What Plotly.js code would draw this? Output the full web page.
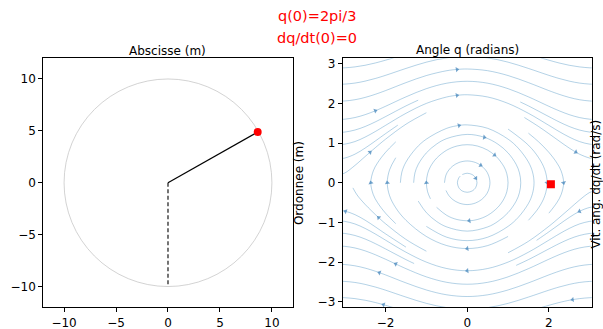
<!DOCTYPE html>
<html><head><meta charset="utf-8">
<script src="https://cdn.plot.ly/plotly-3.0.1.min.js"></script>
<style>html,body{margin:0;padding:0;background:#fff}#chart{width:603px;height:329px}</style>
</head><body><div id="chart"></div>
<script>
// ---------- left panel (pendulum in physical space) ----------
const pendulumLength = 10;
const pivotX = [0], pivotY = [0];
const bobX = [8.63], bobY = [4.89];
const restX = [0, 0], restY = [0, -10];
const leftTicks = [-10, -5, 0, 5, 10];

// ---------- right panel (phase space) ----------
const stateQ = [2.05], stateP = [-0.04];
const qTicks = [-2, 0, 2];
const pTicks = [-3, -2, -1, 0, 1, 2, 3];

// stream lines (q values, dq/dt values, arrow point indices)
const streamQ = [
  [-3.14,-3,-2.75,-2.5,-2.25,-2,-1.8],
  [1.8,2,2.25,2.5,2.75,3,3.14],
  [-3.14,-3,-2.75,-2.5,-2.25,-2,-1.5,-1,-0.5,0,0.5,1,1.5,2,2.25,2.5,2.75,3,3.14],
  [-3.14,-3,-2.75,-2.5,-2.25,-2,-1.5,-1,-0.5,-0.25,0,0.5,1,1.5,2,2.25,2.5,2.75,3,3.14],
  [-3.14,-3,-2.75,-2.5,-2.25,-2,-1.5,-1,-0.5,0,0.5,1,1.5,2,2.25,2.5,2.75,3,3.14],
  [-3.14,-3,-2.75,-2.5,-2.25,-2,-1.5,-1.2],
  [1.3,1.5,2,2.25,2.5,2.75,3,3.14],
  [-3.14,-3,-2.75,-2.5,-2.25,-2,-1.5,-1,-0.5,-0.25,0,0.5,1,1.5,2,2.25,2.5,2.75,3,3.14],
  [-3.14,-3,-2.75,-2.5,-2.25,-2,-1.7],
  [1.4,1.75,2,2.25,2.5,2.66,2.75,3,3.14],
  [-3.14,-3,-2.75,-2.5,-2.38,-2.25,-2,-1.5,-1.0],
  [3.14,3,2.75,2.58,2.5,2.25,2,1.8],
  [-1.8,-2,-2.05,-2.25,-2.5,-2.75,-3,-3.14],
  [3.14,3,2.75,2.5,2.25,2,1.5,1,0.5,0,-0.5,-1,-1.5,-2,-2.25,-2.5,-2.75,-3,-3.14],
  [3.14,3,2.75,2.5,2.25,2,1.5,1,0.5,0,-0.5,-1,-1.5,-2,-2.15,-2.25,-2.5,-2.75,-3,-3.14],
  [3.14,3,2.75,2.5,2.25,2,1.5,1,0.5,0,-0.5,-1,-1.5,-1.75,-2,-2.25,-2.5,-2.75,-3,-3.14],
  [3.14,3,2.75,2.5,2.25,2,1.5,1,0.5,0,-0.5,-1,-1.5,-2,-2.25,-2.5,-2.75,-3,-3.14],
  [3.14,3,2.75,2.5,2.25,2,1.5,1.2],
  [-1.3,-1.5,-2,-2.25,-2.5,-2.75,-3,-3.14],
  [-1.5,-2,-2.25,-2.5,-2.75,-2.98,-3.14],
  [3.14,3,2.75,2.5,2.25,2,1.7],
  [3.14,3,2.75,2.5,2.25,2,1.5,1.0],
  [-1.0,-1.5,-2.0,-2.17,-2.5,-2.7,-2.8],
  [1.5,1.75,2.0,2.2,2.3,2.362,2.3,2.2,2.0],
  [-1.75,-2.0,-2.2,-2.3,-2.362,-2.3,-2.2,-2.0,-1.75],
  [1.0,1.5,1.75,1.9,1.958,1.9,1.75,1.5],
  [1.0,0.5,0,-0.5,-1.0,-1.5,-1.75,-1.9,-1.958,-1.9,-1.75],
  [-1.637,-1.6,-1.5,-1.25,-1.0,-0.5,-0.2,0,0.5,1.0,1.25,1.5,1.6,1.637,1.6,1.5,1.25,1.0,0.5,0,-0.5,-1.0],
  [-1.312,-1.28,-1.2,-1.0,-0.75,-0.5,0,0.42,0.75,1.0,1.2,1.28,1.312,1.28,1.2,1.0,0.75,0.5,0,-0.5,-0.75,-1.0,-1.2],
  [-0.9,-0.97,-1.0,-0.97,-0.9,-0.75,-0.5,-0.25,0,0.25,0.5,0.67,0.75,0.9,0.97,1.0,0.97,0.9,0.75,0.5,0.25,0.05,-0.25,-0.5,-0.75],
  [-0.557,-0.52,-0.45,-0.35,-0.2,0,0.2,0.33,0.45,0.52,0.557,0.52,0.45,0.35,0.2,0,-0.2,-0.35,-0.45,-0.52],
  [-0.12,0,0.12,0.17,0.21,0.24,0.21,0.17,0.12,0,-0.12,-0.17,-0.21,-0.24,-0.21,-0.17]
];
const streamP = [
  [2.897,2.900,2.923,2.964,3.022,3.092,3.152],
  [3.152,3.092,3.022,2.964,2.923,2.900,2.897],
  [2.485,2.489,2.515,2.564,2.631,2.710,2.884,3.043,3.151,3.19,3.151,3.043,2.884,2.710,2.631,2.564,2.515,2.489,2.485],
  [2.058,2.063,2.095,2.153,2.232,2.325,2.526,2.705,2.827,2.859,2.87,2.827,2.705,2.526,2.325,2.232,2.153,2.095,2.063,2.058],
  [1.598,1.604,1.645,1.718,1.816,1.929,2.167,2.374,2.512,2.56,2.512,2.374,2.167,1.929,1.816,1.718,1.645,1.604,1.598],
  [1.272,1.279,1.330,1.419,1.536,1.669,1.939,2.084],
  [2.038,1.939,1.669,1.536,1.419,1.330,1.279,1.272],
  [0.963,0.974,1.039,1.152,1.293,1.448,1.752,2.002,2.164,2.206,2.22,2.164,2.002,1.752,1.448,1.293,1.152,1.039,0.974,0.963],
  [0.607,0.623,0.721,0.875,1.054,1.239,1.453],
  [1.646,1.418,1.239,1.054,0.875,0.773,0.721,0.623,0.607],
  [0.2,0.245,0.437,0.662,0.769,0.885,1.099,1.477,1.767],
  [-2.897,-2.900,-2.923,-2.949,-2.964,-3.022,-3.092,-3.152],
  [-3.152,-3.092,-3.077,-3.022,-2.964,-2.923,-2.900,-2.897],
  [-2.485,-2.489,-2.515,-2.564,-2.631,-2.710,-2.884,-3.043,-3.151,-3.19,-3.151,-3.043,-2.884,-2.710,-2.631,-2.564,-2.515,-2.489,-2.485],
  [-2.058,-2.063,-2.095,-2.153,-2.232,-2.325,-2.526,-2.705,-2.827,-2.87,-2.827,-2.705,-2.526,-2.325,-2.268,-2.232,-2.153,-2.095,-2.063,-2.058],
  [-1.598,-1.604,-1.645,-1.718,-1.816,-1.929,-2.167,-2.374,-2.512,-2.56,-2.512,-2.374,-2.167,-2.049,-1.929,-1.816,-1.718,-1.645,-1.604,-1.598],
  [-0.963,-0.974,-1.039,-1.152,-1.293,-1.448,-1.752,-2.002,-2.164,-2.22,-2.164,-2.002,-1.752,-1.448,-1.293,-1.152,-1.039,-0.974,-0.963],
  [-1.272,-1.279,-1.330,-1.419,-1.536,-1.669,-1.939,-2.084],
  [-2.038,-1.939,-1.669,-1.536,-1.419,-1.330,-1.279,-1.272],
  [-1.624,-1.289,-1.113,-0.944,-0.804,-0.721,-0.703],
  [-0.607,-0.623,-0.721,-0.875,-1.054,-1.239,-1.453],
  [-0.2,-0.245,-0.437,-0.662,-0.885,-1.099,-1.477,-1.767],
  [-1.727,-1.429,-1.034,-0.879,-0.546,-0.304,-0.129],
  [1.251,1.032,0.768,0.495,0.300,0,-0.300,-0.495,-0.768],
  [-1.032,-0.768,-0.495,-0.300,0,0.300,0.495,0.768,1.032],
  [1.355,0.947,0.632,0.330,0,-0.330,-0.632,-0.947],
  [-1.355,-1.585,-1.66,-1.585,-1.355,-0.947,-0.632,-0.330,0,0.330,0.632],
  [0,0.271,0.522,0.873,1.101,1.374,1.446,1.46,1.374,1.101,0.873,0.522,0.271,0,-0.271,-0.522,-0.873,-1.101,-1.374,-1.46,-1.374,-1.101],
  [0,0.249,0.462,0.754,0.976,1.115,1.22,1.147,0.976,0.754,0.462,0.249,0,-0.249,-0.462,-0.754,-0.976,-1.115,-1.22,-1.115,-0.976,-0.754,-0.462],
  [-0.406,-0.228,0,0.228,0.406,0.620,0.823,0.927,0.96,0.927,0.823,0.699,0.620,0.406,0.228,0,-0.228,-0.406,-0.620,-0.823,-0.927,-0.959,-0.927,-0.823,-0.620],
  [0,0.195,0.322,0.426,0.512,0.55,0.512,0.441,0.322,0.195,0,-0.195,-0.322,-0.426,-0.512,-0.55,-0.512,-0.426,-0.322,-0.195],
  [0.208,0.24,0.208,0.169,0.116,0,-0.116,-0.169,-0.208,-0.24,-0.208,-0.169,-0.116,0,0.116,0.169]
];
const streamArrows = [
  [],[],[],[9],[4],[],[],[9],[],[5],[4],
  [3],[2],[],[14],[13],[9],[],[],[5],[2],[],
  [3],[5],[4],[4],[2,8],[6],[7],[2,11,21],[7],[4]
];

const traces = [];
streamQ.forEach(function (qs, i) {
  const sizes = qs.map(function (_, j) { return streamArrows[i].indexOf(j) >= 0 ? 4.5 : 0; });
  traces.push({
    type: 'scatter', mode: 'lines+markers', x: qs, y: streamP[i], xaxis: 'x2', yaxis: 'y2',
    line: {color: 'rgba(31,119,180,0.42)', width: 0.8, shape: 'spline', smoothing: 1},
    marker: {size: sizes, symbol: 'triangle-up', angleref: 'previous', color: '#3a7fb8', line: {width: 0}},
    hoverinfo: 'skip', showlegend: false
  });
});
traces.push({type: 'scatter', mode: 'markers', x: stateQ, y: stateP, xaxis: 'x2', yaxis: 'y2',
  marker: {symbol: 'square', size: 8, color: 'red'}, hoverinfo: 'skip', showlegend: false});

traces.push({type: 'scatter', mode: 'lines', x: restX, y: restY, xaxis: 'x', yaxis: 'y',
  line: {color: '#000', width: 1.1, dash: '4px,2.5px'}, hoverinfo: 'skip', showlegend: false});
traces.push({type: 'scatter', mode: 'lines', x: pivotX.concat(bobX), y: pivotY.concat(bobY), xaxis: 'x', yaxis: 'y',
  line: {color: '#000', width: 1.2}, hoverinfo: 'skip', showlegend: false});
traces.push({type: 'scatter', mode: 'markers', x: bobX, y: bobY, xaxis: 'x', yaxis: 'y',
  marker: {symbol: 'circle', size: 8, color: 'red'}, hoverinfo: 'skip', showlegend: false});

const font = 'DejaVu Sans, sans-serif';
const axisBase = {
  showline: true, mirror: true, linecolor: '#000', linewidth: 1,
  ticks: 'outside', ticklen: 4, tickwidth: 1, tickcolor: '#000',
  showgrid: false, zeroline: false, fixedrange: true,
  tickfont: {family: font, size: 12, color: '#000'}
};
const yDom = [0.066, 0.823];
const layout = {
  width: 603, height: 329, margin: {l: 0, r: 0, t: 0, b: 0},
  paper_bgcolor: '#fff', plot_bgcolor: '#fff', showlegend: false,
  xaxis: Object.assign({}, axisBase, {domain: [0.0718, 0.4854], range: [-12, 12], tickmode: 'array', tickvals: leftTicks, anchor: 'y'}),
  yaxis: Object.assign({}, axisBase, {domain: yDom, range: [-12, 12], tickmode: 'array', tickvals: leftTicks, anchor: 'x'}),
  xaxis2: Object.assign({}, axisBase, {domain: [0.5683, 0.9813], range: [-3.05, 3.05], tickmode: 'array', tickvals: qTicks, anchor: 'y2'}),
  yaxis2: Object.assign({}, axisBase, {domain: yDom, range: [-3.1416, 3.1416], tickmode: 'array', tickvals: pTicks, anchor: 'x2'}),
  shapes: [{type: 'circle', xref: 'x', yref: 'y', x0: -pendulumLength, y0: -pendulumLength, x1: pendulumLength, y1: pendulumLength,
    line: {color: '#c8c8c8', width: 0.8}, layer: 'below'}],
  annotations: [
    {text: 'q(0)=2pi/3', xref: 'paper', yref: 'paper', x: 0.525, y: 0.951, xanchor: 'center', yanchor: 'middle', showarrow: false, font: {family: font, size: 14.5, color: 'red'}},
    {text: 'dq/dt(0)=0', xref: 'paper', yref: 'paper', x: 0.525, y: 0.883, xanchor: 'center', yanchor: 'middle', showarrow: false, font: {family: font, size: 14.5, color: 'red'}},
    {text: 'Abscisse (m)', xref: 'paper', yref: 'paper', x: 0.2786, y: 0.845, xanchor: 'center', yanchor: 'middle', showarrow: false, font: {family: font, size: 12, color: '#000'}},
    {text: 'Angle q (radians)', xref: 'paper', yref: 'paper', x: 0.7745, y: 0.848, xanchor: 'center', yanchor: 'middle', showarrow: false, font: {family: font, size: 12, color: '#000'}},
    {text: 'Ordonnee (m)', xref: 'paper', yref: 'paper', x: 0.495, y: 0.445, xanchor: 'center', yanchor: 'middle', textangle: -90, showarrow: false, font: {family: font, size: 12, color: '#000'}},
    {text: 'Vit. ang. dq/dt (rad/s)', xref: 'paper', yref: 'paper', x: 0.989, y: 0.44, xanchor: 'center', yanchor: 'middle', textangle: -90, showarrow: false, font: {family: font, size: 12, color: '#000'}}
  ]
};
Plotly.newPlot('chart', traces, layout, {displayModeBar: false, staticPlot: true});
</script>
</body></html>
